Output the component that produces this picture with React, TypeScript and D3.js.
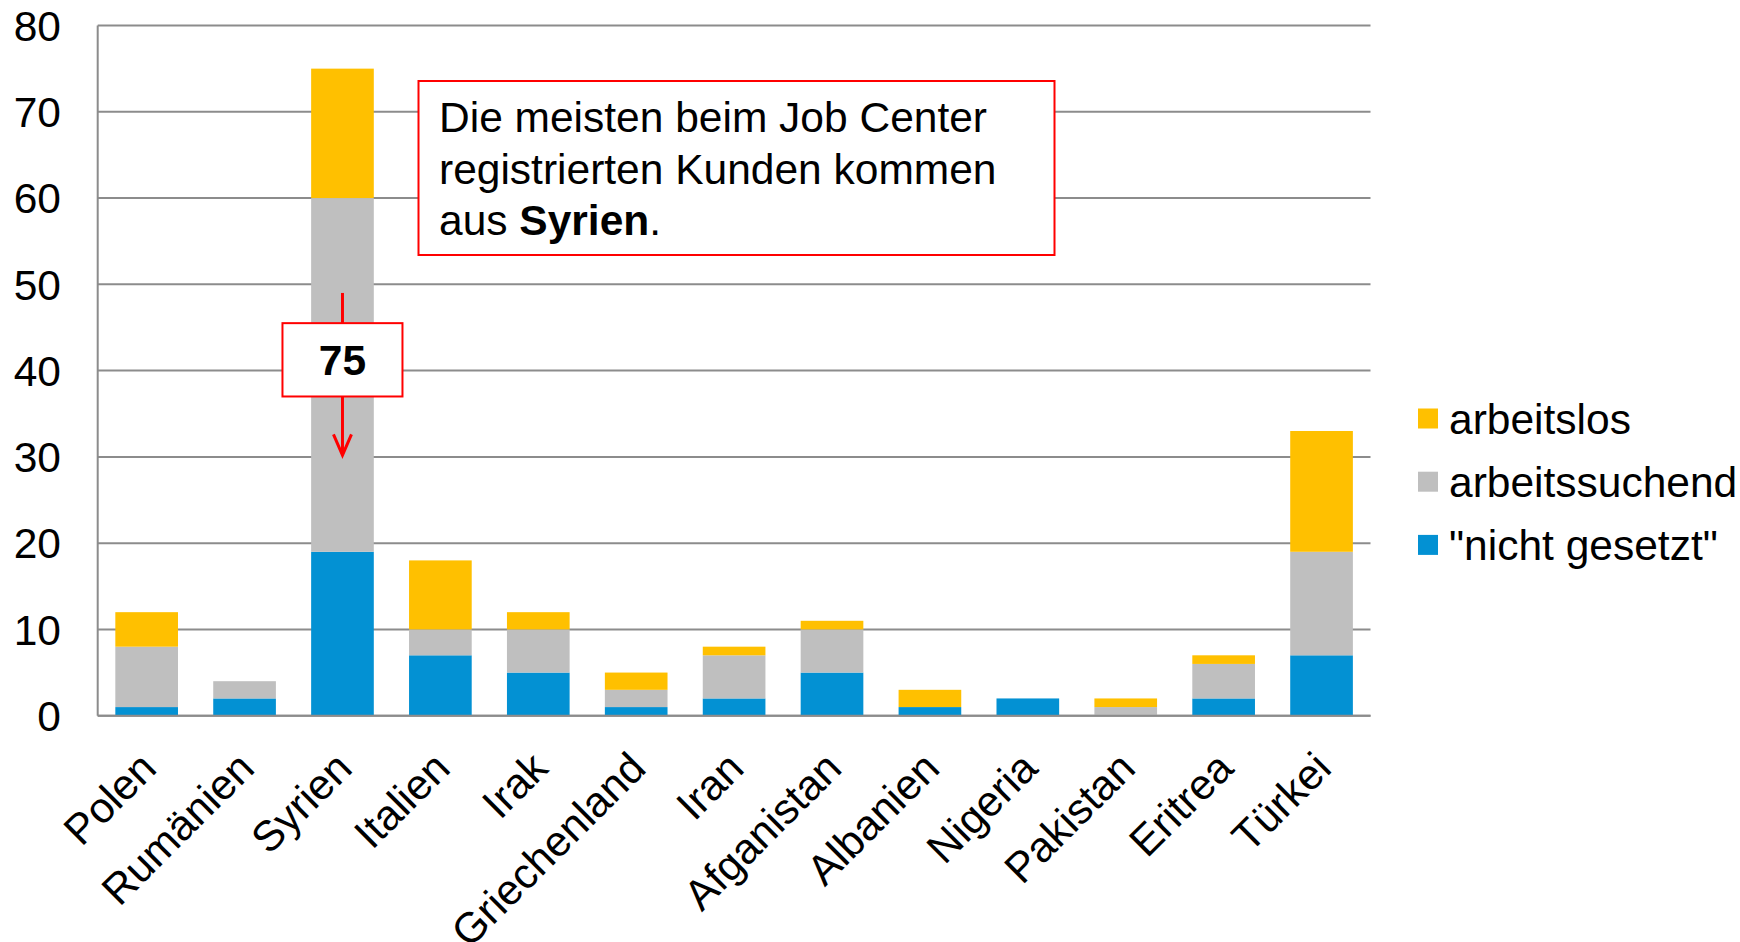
import React from "react";
import * as d3 from "d3";

const categories = ["Polen", "Rumänien", "Syrien", "Italien", "Irak", "Griechenland", "Iran", "Afganistan", "Albanien", "Nigeria", "Pakistan", "Eritrea", "Türkei"];
const nichtGesetzt = [1, 2, 19, 7, 5, 1, 2, 5, 1, 2, 0, 2, 7];
const arbeitssuchend = [7, 2, 41, 3, 5, 2, 5, 5, 0, 0, 1, 4, 12];
const arbeitslos = [4, 0, 15, 8, 2, 2, 1, 1, 2, 0, 1, 1, 14];
const yTicks = [0, 10, 20, 30, 40, 50, 60, 70, 80];
const seriesKeys = ["nicht", "suchend", "los"];
const seriesLabels = ['"nicht gesetzt"', "arbeitssuchend", "arbeitslos"];
const seriesColors = ["#0391D3", "#BFBFBF", "#FFC000"];

const W = 1740;
const H = 942;
const FONT = "'Liberation Sans', Arial, sans-serif";
const FS = 42.5;

export default function App() {
  const left = 97.7;
  const right = 1370.5;
  const top = 25.5;
  const bottom = 715.7;

  const x = d3.scaleBand<string>().domain(categories).range([left, right]).paddingInner(0.36).paddingOuter(0.18);
  const y = d3.scaleLinear().domain([0, 80]).range([bottom, top]);

  const rows = categories.map((c, i) => ({ cat: c, nicht: nichtGesetzt[i], suchend: arbeitssuchend[i], los: arbeitslos[i] }));
  const stacked = d3.stack<any>().keys(seriesKeys)(rows);

  const syrIdx = categories.indexOf("Syrien");
  const syrTotal = nichtGesetzt[syrIdx] + arbeitssuchend[syrIdx] + arbeitslos[syrIdx];
  const cx = (x("Syrien") as number) + x.bandwidth() / 2;

  const legendOrder = [2, 1, 0];

  return (
    <svg width={W} height={H} style={{ position: "absolute", left: 0, top: 0, background: "#fff" }} fontFamily={FONT}>
      <rect x={0} y={0} width={W} height={H} fill="#fff" />
      {/* gridlines */}
      {yTicks.map((t) => (
        <line key={t} x1={left} x2={right} y1={y(t)} y2={y(t)} stroke="#8C8C8C" strokeWidth={2} />
      ))}
      <line x1={left} x2={left} y1={top} y2={bottom} stroke="#8C8C8C" strokeWidth={2} />
      {/* y labels */}
      {yTicks.map((t) => (
        <text key={t} x={61} y={y(t)} dy="0.36em" textAnchor="end" fontSize={FS} fill="#000">{t}</text>
      ))}
      {/* bars */}
      {stacked.map((s, si) => (
        <g key={s.key} fill={seriesColors[si]}>
          {s.map((d, i) => (
            d[1] - d[0] > 0 ? (
              <rect key={i} x={x(categories[i])} width={x.bandwidth()} y={y(d[1])} height={y(d[0]) - y(d[1])} />
            ) : null
          ))}
        </g>
      ))}
      {/* baseline again on top */}
      <line x1={left} x2={right} y1={bottom} y2={bottom} stroke="#8C8C8C" strokeWidth={2} />
      {/* category labels */}
      {categories.map((c) => {
        const px = (x(c) as number) + x.bandwidth() / 2 + 1;
        const py = bottom + 44;
        return (
          <text key={c} x={px} y={py} textAnchor="end" fontSize={FS} dy="0.36em" transform={`rotate(-45 ${px} ${py})`}>{c}</text>
        );
      })}
      {/* annotation box */}
      <rect x={418.5} y={81} width={636} height={174} fill="#fff" stroke="#FF0000" strokeWidth={2} />
      <text x={439} fontSize={FS} fill="#000">
        <tspan x={439} y={132}>Die meisten beim Job Center</tspan>
        <tspan x={439} y={184}>registrierten Kunden kommen</tspan>
        <tspan x={439} y={235}>aus <tspan fontWeight="bold">Syrien</tspan>.</tspan>
      </text>
      {/* callout 75 */}
      <line x1={cx} x2={cx} y1={y(49)} y2={y(30.2)} stroke="#FF0000" strokeWidth={3} />
      <polyline points={`${cx - 9},${y(32.6)} ${cx},${y(30.2)} ${cx + 9},${y(32.6)}`} fill="none" stroke="#FF0000" strokeWidth={3} />
      <rect x={cx - 60} y={y(45.5)} width={120} height={y(37) - y(45.5)} fill="#fff" stroke="#FF0000" strokeWidth={2} />
      <text x={cx} y={(y(45.5) + y(37)) / 2} dy="0.36em" textAnchor="middle" fontSize={FS} fontWeight="bold">{syrTotal}</text>
      {/* legend */}
      {legendOrder.map((si, k) => {
        const ly = 418.5 + k * 63.2;
        return (
          <g key={si}>
            <rect x={1418} y={ly - 10} width={20} height={20} fill={seriesColors[si]} />
            <text x={1449} y={ly} dy="0.36em" fontSize={FS}>{seriesLabels[si]}</text>
          </g>
        );
      })}
    </svg>
  );
}
